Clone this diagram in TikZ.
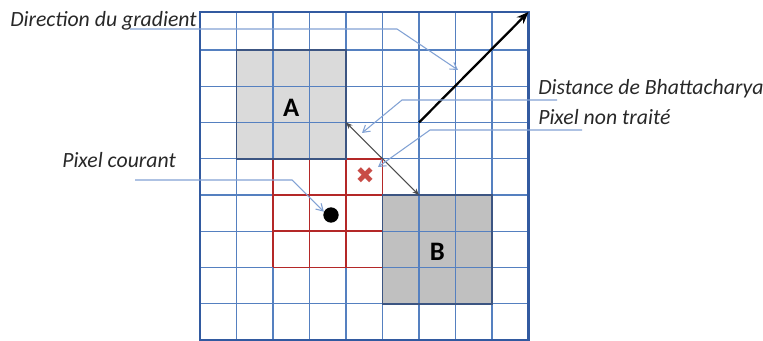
\documentclass[tikz,border=0pt]{standalone}
\usepackage{fontspec}
\setmainfont{Carlito}
\newfontfamily\symfont{DejaVu Sans}
\usetikzlibrary{arrows.meta}

\definecolor{gridblue}{RGB}{85,128,192}
\definecolor{frameblue}{RGB}{50,90,160}
\definecolor{boxedge}{RGB}{60,85,130}
\definecolor{leadblue}{RGB}{130,162,212}
\definecolor{redgrid}{RGB}{180,40,40}
\definecolor{crossred}{RGB}{200,75,70}
\definecolor{txtgray}{RGB}{40,40,40}
\definecolor{fillA}{RGB}{218,218,218}
\definecolor{fillB}{RGB}{192,192,192}

\begin{document}
\begin{tikzpicture}[x=0.75pt, y=-0.75pt,
  lbl/.style={font=\fontsize{16.3}{19}\selectfont\itshape, text=txtgray,
              inner sep=0pt, anchor=base west},
  gline/.style={draw=gridblue, line width=1pt},
  rline/.style={draw=redgrid, line width=1.2pt},
  win/.style={draw=boxedge, line width=1.3pt, inner sep=0pt,
              minimum width=82.1pt, minimum height=81.6pt},
  letter/.style={font=\fontsize{20}{24}\selectfont\bfseries, inner sep=0pt},
  lead/.style={draw=leadblue, line width=0.8pt,
               -{Straight Barb[length=5pt,width=6pt]}},
]
  \useasboundingbox (0,0) rectangle (763,341);

  % window fills, under the grid
  \fill[fillA] (236.5,50) rectangle (346,158.75);
  \fill[fillB] (382.5,195) rectangle (492,303.75);

  % pixel grid
  \foreach \gx in {236.5,273,309.5,346,382.5,419,455.5,492}
    \draw[gline] (\gx,12) -- (\gx,340);
  \foreach \gy in {50,86.25,122.5,158.75,195,231.25,267.5,303.75}
    \draw[gline] (200,\gy) -- (528.5,\gy);

  % neighbourhood of the current pixel
  \foreach \rx in {273,309.5,346,382.5}
    \draw[rline] (\rx,158.75) -- (\rx,267.5);
  \foreach \ry in {158.75,195,231.25,267.5}
    \draw[rline] (273,\ry) -- (382.5,\ry);

  \node[win] (winA) at (291.25,104.4) {};
  \node[win] (winB) at (437.25,249.4) {};
  \node[letter] (la) at ([yshift=-2.8pt]winA.center) {A};
  \node[letter] (lb) at ([yshift=-1.8pt]winB.center) {B};

  \draw[frameblue, line width=1.6pt] (200,12) rectangle (528.5,340);

  \node[circle, fill=black, inner sep=0pt, minimum size=11.5pt] (cur) at (331,215) {};
  \node[text=crossred, inner sep=0pt, font=\symfont\fontsize{17}{17}\selectfont]
    (cross) at (365,176) {✖};

  \coordinate (dA) at (346,122.5);
  \coordinate (dB) at (419,195);
  \coordinate (gS) at (419,122.5);
  \coordinate (gE) at (528.5,12);

  \draw[black, line width=1.7pt, -{Stealth[length=9pt,width=7pt]}] (gS) -- (gE);
  \draw[black!70, line width=0.8pt, {Stealth[length=5pt,width=4pt]}-{Stealth[length=5pt,width=4pt]}]
    (dA) -- (dB);

  % labels and their leaders
  \node[lbl] (grad)  at (10,27)   {Direction du gradient};
  \node[lbl] (dist)  at (538,95)  {Distance de Bhattacharya};
  \node[lbl] (nontr) at (538,125) {Pixel non traité};
  \node[lbl] (cour)  at (62,168)  {Pixel courant};

  \coordinate (gradS)  at (130,29);
  \coordinate (gradT)  at (458,70);
  \coordinate (distS)  at (557,100);
  \coordinate (distT)  at (362,133);
  \coordinate (nontrS) at (582,130);
  \coordinate (nontrT) at (378,167);
  \coordinate (courS)  at (135,180);

  \draw[lead] (gradS) -- (397,29) -- (gradT);
  \draw[lead] (distS) -- (402,100) -- (distT);
  \draw[lead] (nontrS) -- (430,130) -- (nontrT);
  \draw[lead] (courS) -- (292,180) -- (cur.155);
\end{tikzpicture}
\end{document}
